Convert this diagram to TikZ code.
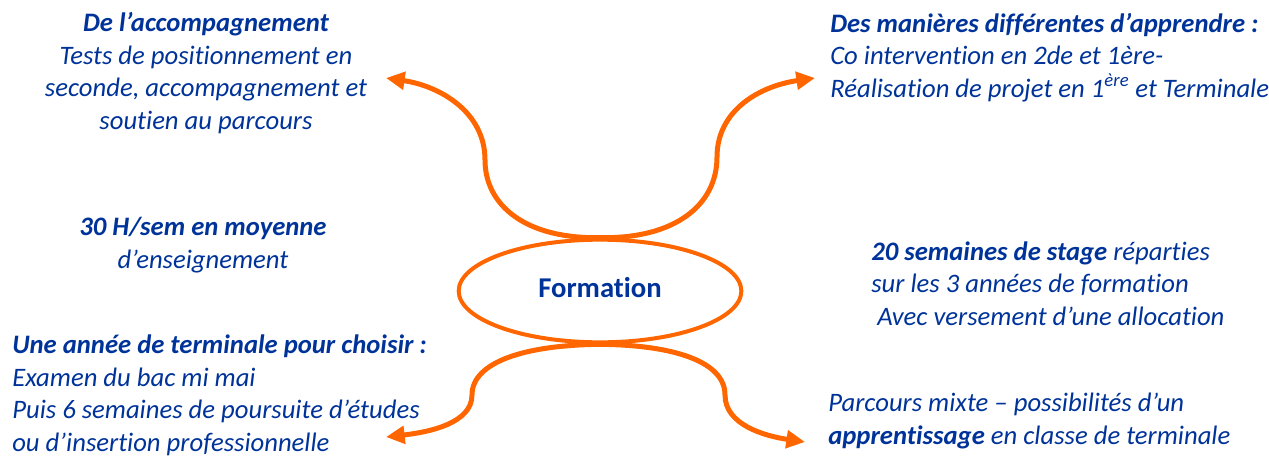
\documentclass[tikz,border=0pt]{standalone}
\usepackage{fontspec}
\setmainfont{Carlito}[Ligatures={NoCommon}]
\usetikzlibrary{shapes.geometric,arrows.meta}
\definecolor{bleuF}{RGB}{0,51,153}
\definecolor{orangeF}{RGB}{255,102,0}
\begin{document}
\begin{tikzpicture}[x=0.75pt, y=-0.75pt,
    txt/.style={text=bleuF, font=\fontsize{20}{24.3}\selectfont\itshape, inner sep=0pt},
    fleche/.style={draw=orangeF, line width=3.75pt, -{Triangle[length=14pt,width=13pt]}}]
  \useasboundingbox (0,0) rectangle (1269,457);

  \node [draw=orangeF, line width=3pt, ellipse, minimum width=212pt, minimum height=77pt, inner sep=0pt,
    text depth=6pt, text=bleuF, font=\fontsize{21.5}{24}\selectfont\bfseries] (formation) at (600,291) {Formation};

  % bouts des fleches
  \coordinate (hautG) at (386,78);
  \coordinate (hautD) at (815,78);
  \coordinate (basG) at (386,437);
  \coordinate (basD) at (805,442);

  \draw [fleche] (formation.north) .. controls (525,239) and (485,205) .. (485,160)
    .. controls (485,112) and (440,86) .. (hautG);
  \draw [fleche] (formation.north) .. controls (675,239) and (717,205) .. (717,157)
    .. controls (717,110) and (760,86) .. (hautD);
  \draw [fleche] (formation.south) .. controls (525,345) and (472,362) .. (472,395)
    .. controls (472,423) and (430,432) .. (basG);
  \draw [fleche] (formation.south) .. controls (675,345) and (725,362) .. (725,395)
    .. controls (725,425) and (765,436) .. (basD);

  % textes (ancre = ligne du bas)
  \node [txt, align=center, anchor=base] (accomp) at (206,129)
    {\textbf{De l’accompagnement}\\ Tests de positionnement en\\ seconde, accompagnement et\\ soutien au parcours};
  \node [txt, align=left, anchor=base west] (manieres) at (830,97)
    {\textbf{Des manières différentes d’apprendre :}\\ Co intervention en 2de et 1ère-\\ Réalisation de projet en 1\textsuperscript{ère} et Terminale};
  \node [txt, align=center, anchor=base] (heures) at (203,268)
    {\textbf{30 H/sem en moyenne}\\ d’enseignement};
  \node [txt, align=left, anchor=base west] (stage) at (871,325)
    {\textbf{20 semaines de stage} réparties\\ sur les 3 années de formation\\ \hspace*{4.5pt}Avec versement d’une allocation};
  \node [txt, align=left, anchor=base west] (terminale) at (12,451)
    {\textbf{Une année de terminale pour choisir :}\\ Examen du bac mi mai\\ Puis 6 semaines de poursuite d’études\\ ou d’insertion professionnelle};
  \node [txt, align=left, anchor=base west] (mixte) at (828,444)
    {Parcours mixte – possibilités d’un\\ \textbf{apprentissage} en classe de terminale};
\end{tikzpicture}
\end{document}
